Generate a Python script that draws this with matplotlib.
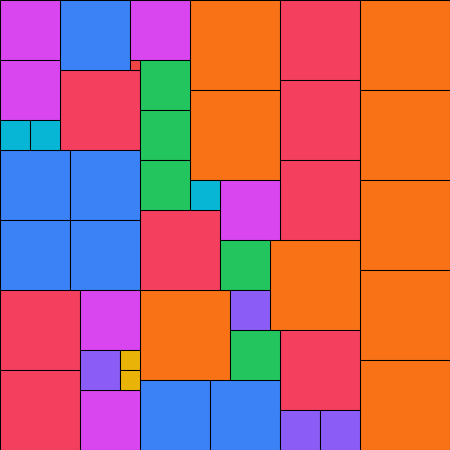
import matplotlib
matplotlib.use("Agg")
import matplotlib.pyplot as plt
from matplotlib.patches import Rectangle

# squares in grid units of 10 px: side k appears k times (1..9)
sides = [9, 8, 7, 6, 5, 4, 3, 2, 1]
colors = ["#f97316", "#f43f5e", "#3b82f6", "#d946ef", "#22c55e",
          "#8b5cf6", "#06b6d4", "#eab308", "#ef4444"]

orange_x = [36, 36, 36, 36, 36, 19, 19, 27, 14]
orange_y = [0, 9, 18, 27, 36, 0, 9, 24, 29]
red_x = [28, 28, 28, 28, 6, 14, 0, 0]
red_y = [0, 8, 16, 33, 7, 21, 29, 37]
blue_x = [6, 0, 7, 0, 7, 14, 21]
blue_y = [0, 15, 15, 22, 22, 38, 38]
fuchsia_x = [0, 0, 13, 22, 8, 8]
fuchsia_y = [0, 6, 0, 18, 29, 39]
green_x = [14, 14, 14, 22, 23]
green_y = [6, 11, 16, 24, 33]
violet_x = [23, 28, 32, 8]
violet_y = [29, 41, 41, 35]
cyan_x = [0, 3, 19]
cyan_y = [12, 12, 18]
yellow_x = [12, 12]
yellow_y = [35, 37]
small_x = [13]
small_y = [6]

xs = [orange_x, red_x, blue_x, fuchsia_x, green_x, violet_x, cyan_x, yellow_x, small_x]
ys = [orange_y, red_y, blue_y, fuchsia_y, green_y, violet_y, cyan_y, yellow_y, small_y]

fig = plt.figure(figsize=(4.5, 4.5), dpi=100)
ax = fig.add_axes([0, 0, 1, 1])

for side, color, px, py in zip(sides, colors, xs, ys):
    for x, y in zip(px, py):
        ax.add_patch(Rectangle((x, y), side, side, facecolor=color,
                               edgecolor="black", linewidth=0.75))

ax.set_xlim(0, 45)
ax.set_ylim(45, 0)
ax.axis("off")

fig.savefig("out.png", dpi=100)
